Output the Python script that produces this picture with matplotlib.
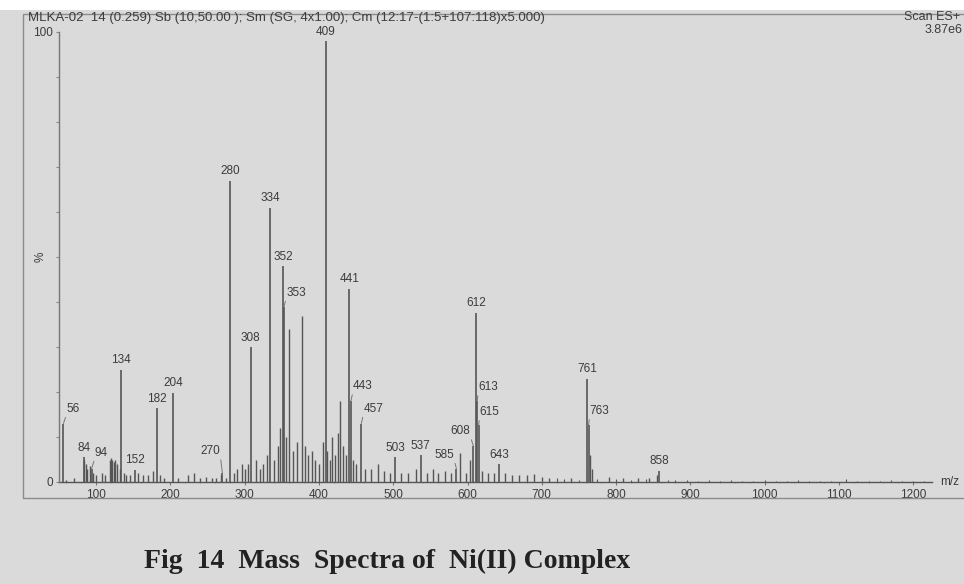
import matplotlib
matplotlib.use("Agg")
import matplotlib.pyplot as plt
from matplotlib.patches import Rectangle

# labelled peaks: m/z and relative intensity (%)
label_mz = [56, 84, 94, 134, 152, 182, 204, 270, 280, 308, 334, 352, 353, 409,
            441, 443, 457, 503, 537, 585, 608, 612, 613, 615, 643, 761, 763, 858]
label_int = [13, 5.5, 3, 25, 2.7, 16.4, 19.8, 2, 67, 30, 61, 48, 39, 98,
             43, 18, 13, 5.5, 6, 3, 8, 37.6, 18, 12.7, 4, 23, 12.7, 2.5]

# unlabelled peaks
minor_mz = [60, 70, 83, 86, 88, 92, 96, 100, 108, 112, 118, 120, 122, 124, 126, 128,
            132, 137, 140, 146, 156, 163, 170, 176, 186, 192, 210, 224, 232, 240,
            248, 256, 262, 268, 275, 285, 290, 296, 300, 305, 315, 320, 325, 330,
            340, 345, 348, 356, 359, 365, 370, 377, 381, 385, 390, 395, 400, 405,
            411, 415, 418, 421, 425, 429, 432, 436, 446, 450, 462, 470, 480, 487,
            495, 510, 520, 530, 545, 553, 560, 570, 578, 590, 598, 604, 620, 628,
            635, 650, 660, 670, 680, 690, 700, 710, 740, 765, 767, 790, 810, 830,
            845, 855]
minor_int = [0.5, 0.8, 5, 4, 3, 3.5, 2, 1.5, 2, 1.5, 5, 5.3, 5, 4.5, 5, 4,
             3, 2, 1.5, 1.5, 2, 1.5, 1.5, 2.5, 1.5, 1, 1, 1.5, 2, 1,
             1.2, 1, 1, 1.5, 1, 2, 3, 4, 3, 4, 5, 3, 4, 6,
             5, 8, 12, 10, 34, 7, 9, 37, 8, 6, 7, 5, 4, 9,
             7, 5, 10, 6, 11, 18, 8, 6, 5, 4, 3, 3, 4, 2.5,
             2, 2, 2, 3, 2, 3, 2, 2.5, 2, 6.5, 2, 5, 2.5, 2,
             2, 2, 1.5, 1.5, 1.5, 1.8, 1.2, 1, 1, 6, 3, 1.2, 1, 1,
             1, 1.5]

# baseline noise towards the high-mass end
noise_mz = [720, 730, 750, 775, 800, 820, 840, 870, 880, 895, 910, 925, 940, 955,
            970, 985, 1000, 1015, 1030, 1045, 1060, 1075, 1090, 1110, 1125, 1140,
            1155, 1170, 1185, 1200, 1215]
noise_int = [0.8, 0.6, 0.5, 0.7, 0.6, 0.5, 0.6, 0.5, 0.4, 0.5, 0.3, 0.4, 0.3, 0.4,
             0.3, 0.3, 0.4, 0.3, 0.3, 0.4, 0.3, 0.3, 0.3, 0.6, 0.3, 0.3,
             0.3, 0.5, 0.3, 0.3, 0.3]

x_ticks = [100, 200, 300, 400, 500, 600, 700, 800, 900, 1000, 1100, 1200]

header = "MLKA-02  14 (0.259) Sb (10,50.00 ); Sm (SG, 4x1.00); Cm (12:17-(1:5+107:118)x5.000)"
caption = "Fig  14  Mass  Spectra of  Ni(II) Complex"

# label offsets in pixels (dx, dy) for labels drawn beside their peak with a leader
leaders = {56: (3, 9), 94: (3, 10), 270: (-2, 16), 353: (2, 8), 443: (2, 9),
           457: (2, 9), 585: (-2, 8), 608: (-3, 9), 613: (1, 8), 615: (1, 7),
           763: (1, 8)}

W, H = 964, 584
bg = "#dadada"
ink = "#555555"
txt = "#3c3c3c"

plt.rcParams["font.family"] = ["Liberation Sans", "DejaVu Sans"]
fig = plt.figure(figsize=(W / 100, H / 100), dpi=100, facecolor=bg)

# white strip at the top and the outer frame of the trace
fig.add_artist(Rectangle((0, 1 - 10 / H), 1, 10 / H, transform=fig.transFigure,
                         facecolor="white", edgecolor="none"))
fig.add_artist(Rectangle((23 / W, 1 - 498 / H), 1.0, (498 - 14) / H, transform=fig.transFigure,
                         facecolor="none", edgecolor="#8c8c8c", lw=1.0))

ax = fig.add_axes([59 / W, (H - 482) / H, (928 - 59) / W, (482 - 32) / H])
ax.set_facecolor("none")
ax.set_xlim(50, 1220)
ax.set_ylim(0, 100)

ax.vlines(noise_mz, 0, noise_int, color=ink, lw=0.8)
ax.vlines(minor_mz, 0, minor_int, color=ink, lw=1.0)
ax.vlines(label_mz, 0, label_int, color=ink, lw=1.2)
ax.plot([50, 1225], [0, 0], color=ink, lw=1.0, clip_on=False)

for mz, h in zip(label_mz, label_int):
    if mz in leaders:
        dx, dy = leaders[mz]
        ax.annotate(str(mz), xy=(mz, h), xytext=(dx * 0.72, dy * 0.72),
                    textcoords="offset points", ha="left" if dx > 0 else "right",
                    va="bottom", fontsize=8.5, color=txt,
                    arrowprops=dict(arrowstyle="-", color="#777777", lw=0.7,
                                    shrinkA=0, shrinkB=0,
                                    relpos=(0, 0) if dx > 0 else (1, 0)))
    else:
        ax.annotate(str(mz), xy=(mz, h), xytext=(0, 2.5), textcoords="offset points",
                    ha="center", va="bottom", fontsize=8.5, color=txt)

for s in ("top", "right", "bottom"):
    ax.spines[s].set_visible(False)
ax.spines["left"].set_color("#777777")
ax.spines["left"].set_linewidth(1.0)

ax.set_xticks(x_ticks)
ax.set_xticklabels([str(t) for t in x_ticks])
ax.set_xticks(range(60, 1220, 20), minor=True)
ax.tick_params(axis="x", which="major", length=2, color="#777777", pad=3,
               labelsize=8.5, labelcolor=txt)
ax.tick_params(axis="x", which="minor", length=1, color="#999999")
ax.set_yticks(range(0, 101, 10))
ax.set_yticklabels(["0"] + [""] * 9 + ["100"])
ax.tick_params(axis="y", length=2.5, color="#888888", pad=2, labelsize=8.5, labelcolor=txt)
ax.text(-0.014, 50, "%", transform=ax.get_yaxis_transform(), rotation=90,
        ha="right", va="center", fontsize=8.5, color=txt)
ax.text(1236, 0, "m/z", ha="left", va="center", fontsize=8.5, color=txt)

fig.text(28 / W, 1 - 18 / H, header, ha="left", va="center", fontsize=9.5, color=txt)
fig.text(904 / W, 1 - 17 / H, "Scan ES+", ha="left", va="center", fontsize=9, color=txt)
fig.text(925 / W, 1 - 30 / H, "3.87e6", ha="left", va="center", fontsize=9, color=txt)

fig.text(0.402, 1 - 561 / H, caption, ha="center", va="center", fontsize=20,
         fontweight="bold", family=["Liberation Serif", "DejaVu Serif"], color="#222222")

fig.savefig("out.png", dpi=100, facecolor=bg)
